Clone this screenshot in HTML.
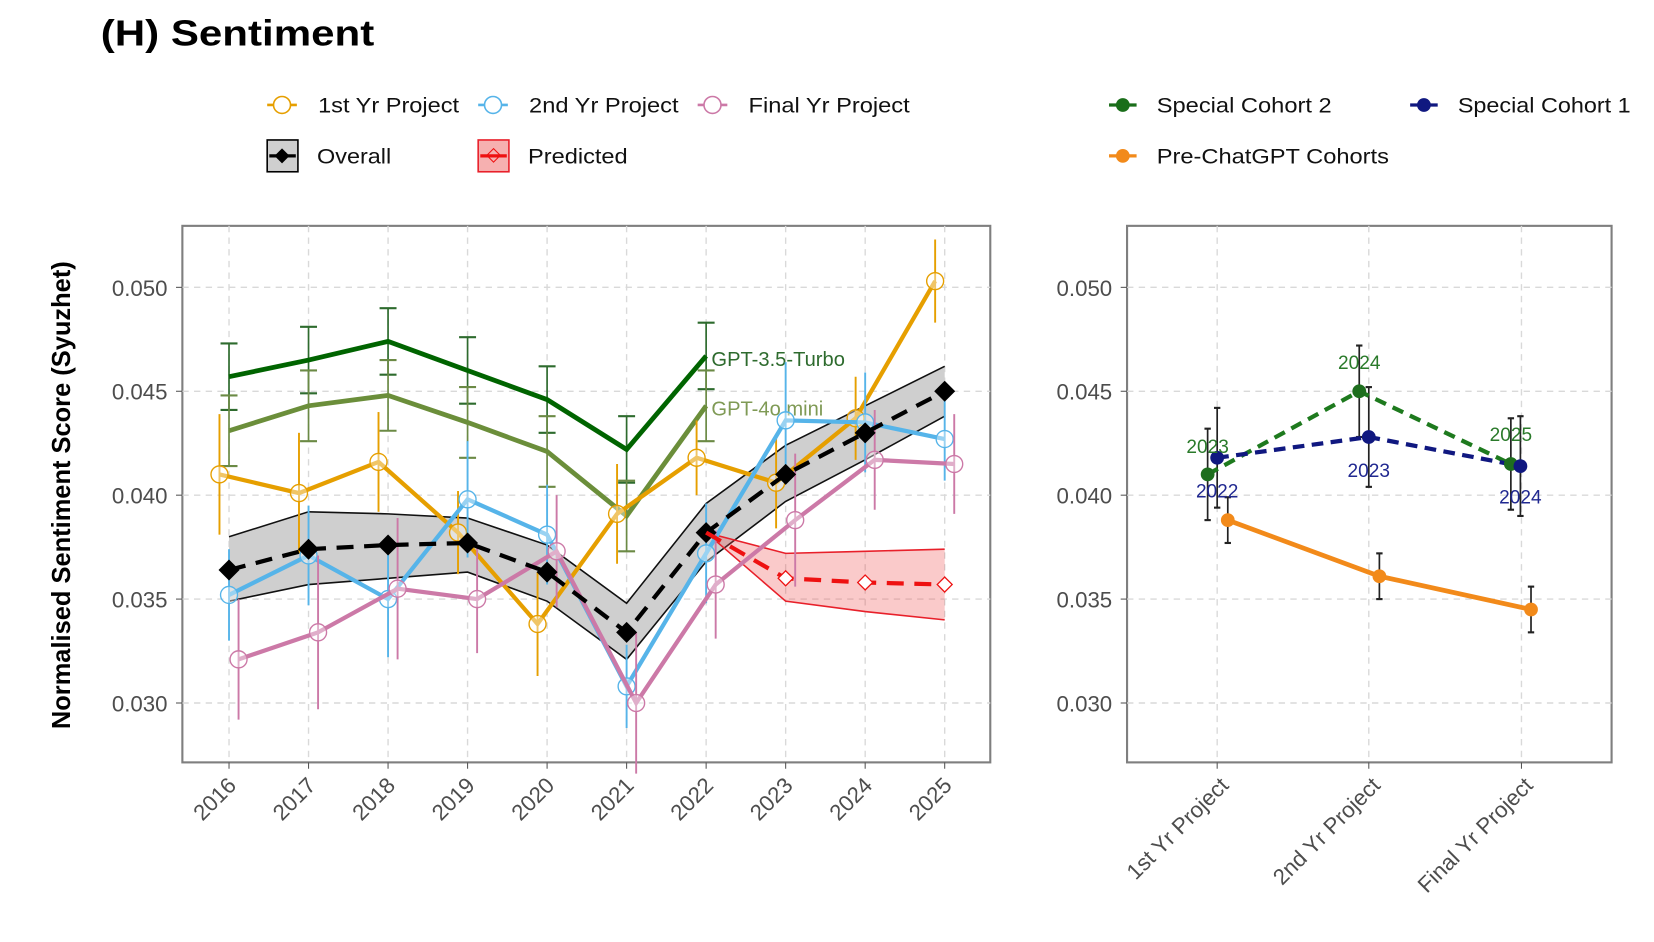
<!DOCTYPE html>
<html><head><meta charset="utf-8"><style>
html,body{margin:0;padding:0;background:#fff;}
svg{display:block;font-family:"Liberation Sans",sans-serif;}
</style></head><body>
<svg id="s" width="1654" height="942" viewBox="0 0 1560 888.4" preserveAspectRatio="none" xmlns="http://www.w3.org/2000/svg">
<rect width="1560" height="889" fill="#fff"/>
<text x="95" y="43" font-size="34" font-weight="bold" fill="#000" textLength="258" lengthAdjust="spacingAndGlyphs">(H)  Sentiment</text>
<g id="g"></g>
</svg>
<script>
const NS="http://www.w3.org/2000/svg",G=document.getElementById('g');
function el(t,a,txt){const e=document.createElementNS(NS,t);for(const k in a)e.setAttribute(k,a[k]);if(txt!=null)e.textContent=txt;G.appendChild(e);return e;}
const Y=v=>271+(0.050-v)*19600, X=y=>216+(y-2016)*75;
el('rect',{x:172,y:213,width:762,height:506,fill:'#fff',stroke:'#7f7f7f','stroke-width':2});
el('rect',{x:1063,y:213,width:457,height:506,fill:'#fff',stroke:'#7f7f7f','stroke-width':2});
const grid={stroke:'#d9d9d9','stroke-width':1.3,'stroke-dasharray':'6,5'};
[0.030,0.035,0.040,0.045,0.050].forEach(v=>{
 el('line',Object.assign({x1:172,x2:934,y1:Y(v),y2:Y(v)},grid));
 el('line',Object.assign({x1:1063,x2:1520,y1:Y(v),y2:Y(v)},grid));
 el('line',{x1:166,x2:172,y1:Y(v),y2:Y(v),stroke:'#555'});
 el('line',{x1:1057,x2:1063,y1:Y(v),y2:Y(v),stroke:'#555'});
 el('text',{x:158,y:Y(v)+8,'font-size':21,fill:'#4d4d4d','text-anchor':'end'},v.toFixed(3));
 el('text',{x:1049,y:Y(v)+8,'font-size':21,fill:'#4d4d4d','text-anchor':'end'},v.toFixed(3));
});
for(let y=2016;y<=2025;y++){el('line',Object.assign({x1:X(y),x2:X(y),y1:213,y2:719},grid));
 el('line',{x1:X(y),x2:X(y),y1:719,y2:725,stroke:'#555'});
 el('text',{x:X(y)+8,y:742,'font-size':21,fill:'#4d4d4d','text-anchor':'end',transform:`rotate(-45 ${X(y)+8} 742)`},y);}
const cx=[1148,1291,1435],cn=['1st Yr Project','2nd Yr Project','Final Yr Project'];
cx.forEach((x,i)=>{el('line',Object.assign({x1:x,x2:x,y1:213,y2:719},grid));
 el('line',{x1:x,x2:x,y1:719,y2:725,stroke:'#555'});
 el('text',{x:x+12,y:742,'font-size':21,fill:'#4d4d4d','text-anchor':'end',transform:`rotate(-45 ${x+12} 742)`},cn[i]);});
el('text',{x:66,y:467,'font-size':24,'font-weight':'bold',fill:'#000','text-anchor':'middle',transform:'rotate(-90 66 467)'},'Normalised Sentiment Score (Syuzhet)');
function pts(a){return a.map(p=>p.join(',')).join(' ');}
function line(xs,vs,o){el('polyline',Object.assign({points:pts(xs.map((x,i)=>[x,Y(vs[i])])),fill:'none'},o));}
function eb(x,lo,hi,c,w,cap){el('line',{x1:x,x2:x,y1:Y(lo),y2:Y(hi),stroke:c,'stroke-width':w||1.6});
 if(cap){el('line',{x1:x-cap,x2:x+cap,y1:Y(lo),y2:Y(lo),stroke:c,'stroke-width':2});el('line',{x1:x-cap,x2:x+cap,y1:Y(hi),y2:Y(hi),stroke:c,'stroke-width':2});}}
const yrs=[2016,2017,2018,2019,2020,2021,2022,2023,2024,2025];
const up=[.0380,.0392,.0391,.0389,.0376,.0348,.0396,.0424,.0443,.0462],lo=[.0349,.0357,.0360,.0363,.0349,.0321,.0368,.0397,.0417,.0438];
el('polygon',{points:pts(yrs.map((y,i)=>[X(y),Y(up[i])]).concat(yrs.map((y,i)=>[X(y),Y(lo[i])]).reverse())),fill:'#cfcfcf',stroke:'none'});
line(yrs.map(X),up,{stroke:'#111','stroke-width':1.5});line(yrs.map(X),lo,{stroke:'#111','stroke-width':1.5});
const py=[2022,2023,2024,2025],pu=[.0382,.0372,.0373,.0374],pl=[.0382,.0349,.0344,.0340],pv=[.0382,.0360,.0358,.0357];
el('polygon',{points:pts(py.map((y,i)=>[X(y),Y(pu[i])]).concat(py.map((y,i)=>[X(y),Y(pl[i])]).reverse())),fill:'rgba(240,80,80,0.3)',stroke:'none'});
line(py.map(X),pu,{stroke:'#e8202a','stroke-width':1.5});line(py.map(X),pl,{stroke:'#e8202a','stroke-width':1.5});
const g35=[.0457,.0465,.0474,.0460,.0446,.0422,.0467],g4=[.0431,.0443,.0448,.0435,.0421,.0390,.0443];
const gy=yrs.slice(0,7);
gy.forEach((y,i)=>{eb(X(y),g35[i]-.0016,g35[i]+.0016,'#2e6b2e',1.6,8);eb(X(y),g4[i]-.0017,g4[i]+.0017,'#6b8a45',1.6,8);});
line(gy.map(X),g35,{stroke:'#006400','stroke-width':4.5});
line(gy.map(X),g4,{stroke:'#6b8e3a','stroke-width':4.5});
el('text',{x:671,y:345,'font-size':19,fill:'#2e6b2e'},'GPT-3.5-Turbo');
el('text',{x:671,y:392,'font-size':19,fill:'#7f9a55'},'GPT-4o mini');
function ser(vals,off,c,err){const xs=yrs.map(y=>X(y)+off);
 vals.forEach((v,i)=>eb(xs[i],v-err[i],v+err[i],c,1.8));
 line(xs,vals,{stroke:c,'stroke-width':4});
 vals.forEach((v,i)=>el('circle',{cx:xs[i],cy:Y(v),r:8,fill:'#fff','fill-opacity':0.4,stroke:c,'stroke-width':1.3}));}
ser([.0410,.0401,.0416,.0382,.0338,.0391,.0418,.0406,.0437,.0503],-9,'#E69F00',[.0029,.0029,.0024,.0020,.0025,.0024,.0018,.0022,.0020,.0020]);
ser([.0352,.0371,.0350,.0398,.0381,.0308,.0372,.0436,.0435,.0427],0,'#56B4E9',[.0022,.0024,.0028,.0028,.0024,.0020,.0024,.0028,.0024,.0020]);
ser([.0321,.0334,.0355,.0350,.0373,.0300,.0357,.0388,.0417,.0415],9,'#CC79A7',[.0029,.0037,.0034,.0026,.0027,.0034,.0026,.0032,.0024,.0024]);
const ov=[.0364,.0374,.0376,.0377,.0363,.0334,.0382,.0410,.0430,.0450];
line(yrs.map(X),ov,{stroke:'#000','stroke-width':4,'stroke-dasharray':'16,10'});
ov.forEach((v,i)=>el('rect',{x:X(yrs[i])-7,y:Y(v)-7,width:14,height:14,fill:'#000',transform:`rotate(45 ${X(yrs[i])} ${Y(v)})`}));
line(py.map(X),pv,{stroke:'#ee1111','stroke-width':4,'stroke-dasharray':'16,10'});
pv.forEach((v,i)=>{if(i>0)el('rect',{x:X(py[i])-5,y:Y(v)-5,width:10,height:10,fill:'#fff',stroke:'#ee1111','stroke-width':1.2,transform:`rotate(45 ${X(py[i])} ${Y(v)})`});});
const pre=[[1158,.0388],[1301,.0361],[1444,.0345]];
pre.forEach(p=>eb(p[0],p[1]-.0011,p[1]+.0011,'#222',1.6,3));
el('polyline',{points:pts(pre.map(p=>[p[0],Y(p[1])])),fill:'none',stroke:'#F28A1A','stroke-width':4.5});
pre.forEach(p=>el('circle',{cx:p[0],cy:Y(p[1]),r:6.5,fill:'#F28A1A'}));
const sc2=[[1139,.0410],[1282,.0450],[1425,.0415]],sc1=[[1148,.0418],[1291,.0428],[1434,.0414]];
sc2.forEach(p=>eb(p[0],p[1]-.0022,p[1]+.0022,'#222',1.6,3));
sc1.forEach(p=>eb(p[0],p[1]-.0024,p[1]+.0024,'#222',1.6,3));
el('polyline',{points:pts(sc2.map(p=>[p[0],Y(p[1])])),fill:'none',stroke:'#1e7a1e','stroke-width':4,'stroke-dasharray':'11,7'});
el('polyline',{points:pts(sc1.map(p=>[p[0],Y(p[1])])),fill:'none',stroke:'#101880','stroke-width':4,'stroke-dasharray':'11,7'});
sc2.forEach(p=>el('circle',{cx:p[0],cy:Y(p[1]),r:6.5,fill:'#1e6e1e'}));
sc1.forEach(p=>el('circle',{cx:p[0],cy:Y(p[1]),r:6.5,fill:'#101880'}));
[['2023',1139,427],['2024',1282,348],['2025',1425,416]].forEach(t=>el('text',{x:t[1],y:t[2],'font-size':18,fill:'#2a7a2a','text-anchor':'middle'},t[0]));
[['2022',1148,469],['2023',1291,450],['2024',1434,475]].forEach(t=>el('text',{x:t[1],y:t[2],'font-size':18,fill:'#202890','text-anchor':'middle'},t[0]));
function tx(x,y,s,w){el('text',{x:x,y:y,'font-size':20,fill:'#111',textLength:w,lengthAdjust:'spacingAndGlyphs'},s);}
function lgc(x,y,c,txt,w){el('line',{x1:x-14,x2:x+14,y1:y,y2:y,stroke:c,'stroke-width':2.5});el('circle',{cx:x,cy:y,r:8,fill:'#fff',stroke:c,'stroke-width':1.5});tx(x+34,y+7,txt,w);}
lgc(266,99,'#E69F00','1st Yr Project',133);lgc(465,99,'#56B4E9','2nd Yr Project',141);lgc(672,99,'#CC79A7','Final Yr Project',152);
el('rect',{x:252,y:132,width:29,height:30,fill:'#cfcfcf',stroke:'#000','stroke-width':1.5});
el('line',{x1:254,x2:279,y1:147,y2:147,stroke:'#000','stroke-width':3});
el('rect',{x:261,y:142,width:10,height:10,fill:'#000',transform:'rotate(45 266 147)'});
tx(299,154,'Overall',70);
el('rect',{x:451,y:132,width:29,height:30,fill:'#f6b0b0',stroke:'#e8202a','stroke-width':1.5});
el('line',{x1:453,x2:478,y1:147,y2:147,stroke:'#ee1111','stroke-width':3});
el('rect',{x:461,y:142,width:9,height:9,fill:'none',stroke:'#ee1111',transform:'rotate(45 465.5 146.5)'});
tx(498,154,'Predicted',94);
function lgf(x,y,c,txt,w){el('line',{x1:x-13,x2:x+13,y1:y,y2:y,stroke:c,'stroke-width':3});el('circle',{cx:x,cy:y,r:6.5,fill:c});tx(x+32,y+7,txt,w);}
lgf(1059,99,'#1a6e1a','Special Cohort 2',165);lgf(1343,99,'#101880','Special Cohort 1',163);lgf(1059,147,'#F28A1A','Pre-ChatGPT Cohorts',219);
</script>
</body></html>
